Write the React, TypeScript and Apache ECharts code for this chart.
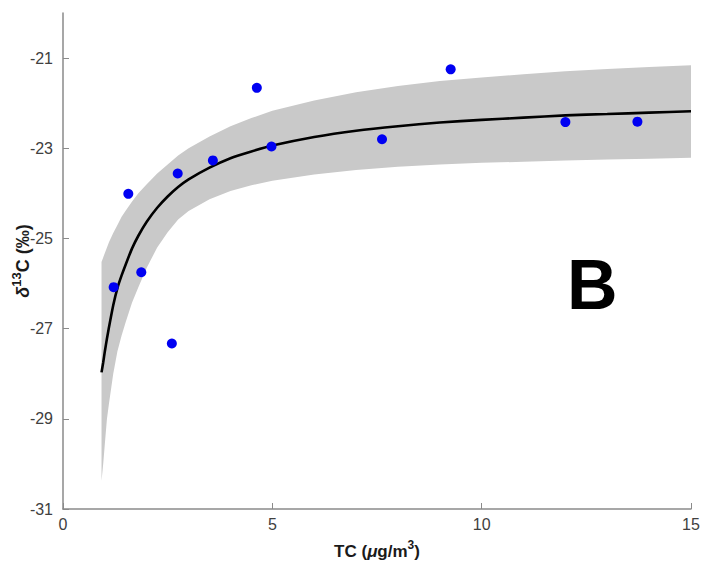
import React, { useEffect, useRef } from "react";
import * as echarts from "echarts";

// Measured TC (µg/m3) and δ13C (‰)
const tcValues = [1.21, 1.56, 1.87, 2.6, 2.74, 3.58, 4.63, 4.98, 7.62, 9.26, 12.0, 13.72];
const d13cValues = [-26.08, -24.01, -25.75, -27.33, -23.56, -23.27, -21.66, -22.96, -22.8, -21.25, -22.42, -22.41];

// Fitted curve and its confidence band
const fitX = [0.92, 0.96, 1.0, 1.05, 1.1, 1.2, 1.3, 1.4, 1.5, 1.65, 1.8, 2.0, 2.25, 2.5, 2.75, 3.0, 3.5, 4.0, 4.5, 5, 6, 7, 8, 9, 10, 11, 12, 13, 14, 15];
const fitY = [-27.97, -27.75, -27.5, -27.22, -26.96, -26.48, -26.1, -25.82, -25.57, -25.22, -24.94, -24.63, -24.32, -24.07, -23.86, -23.69, -23.43, -23.22, -23.07, -22.94, -22.75, -22.61, -22.51, -22.43, -22.37, -22.32, -22.27, -22.24, -22.21, -22.18];
const bandUpper = [-25.52, -25.42, -25.32, -25.2, -25.08, -24.88, -24.7, -24.52, -24.38, -24.18, -24.0, -23.8, -23.56, -23.36, -23.16, -23.0, -22.74, -22.51, -22.33, -22.17, -21.94, -21.76, -21.62, -21.51, -21.43, -21.36, -21.29, -21.24, -21.2, -21.16];
const bandLower = [-30.38, -30.0, -29.55, -29.0, -28.65, -28.0, -27.5, -27.15, -26.85, -26.42, -26.08, -25.65, -25.2, -24.86, -24.58, -24.39, -24.13, -23.95, -23.82, -23.72, -23.58, -23.48, -23.41, -23.36, -23.32, -23.3, -23.27, -23.25, -23.23, -23.21];

// Axis ticks
const yTicks = [-31, -29, -27, -25, -23, -21];
const xTicks = [0, 5, 10, 15];

const FONT = "'Liberation Sans', Arial, sans-serif";

export default function App() {
  const ref = useRef<HTMLDivElement>(null);

  useEffect(() => {
    document.body.style.margin = "0";
    if (!ref.current) return;
    const chart = echarts.init(ref.current, null, { renderer: "svg" });

    const bandData = [[fitX[0], bandLower[0]]];

    const richName = (size: number, sup: number) => ({
      b: { fontSize: size, fontWeight: "bold", fontFamily: FONT, color: "#1a1a1a", lineHeight: size + 4, verticalAlign: "bottom" },
      i: { fontSize: size, fontWeight: "bold", fontStyle: "italic", fontFamily: FONT, color: "#1a1a1a", lineHeight: size + 4, verticalAlign: "bottom" },
      s: { fontSize: sup, fontWeight: "bold", fontFamily: FONT, color: "#1a1a1a", lineHeight: size + 4, verticalAlign: "top" },
    });

    chart.setOption({
      animation: false,
      backgroundColor: "#ffffff",
      grid: { left: 63, right: 10, top: 13, bottom: 54, containLabel: false, outerBoundsMode: "none" },
      xAxis: {
        type: "value",
        min: xTicks[0],
        max: xTicks[xTicks.length - 1],
        interval: 5,
        axisLine: { show: true, lineStyle: { color: "#8a8a8a", width: 1.5 } },
        axisTick: { show: true, inside: true, length: 6, lineStyle: { color: "#8a8a8a", width: 1 } },
        axisLabel: { color: "#404040", fontSize: 16, fontFamily: FONT, margin: 7 },
        splitLine: { show: false },
        name: "{b|TC (}{i|μ}{b|g/m}{s|3}{b|)}",
        nameLocation: "middle",
        nameGap: 30,
        nameMoveOverlap: false,
        nameTextStyle: { rich: richName(17, 12) },
      },
      yAxis: {
        type: "value",
        min: -31,
        max: -20,
        axisLine: { show: true, lineStyle: { color: "#8a8a8a", width: 1.5 } },
        axisTick: { show: true, inside: true, length: 6, customValues: yTicks, lineStyle: { color: "#8a8a8a", width: 1 } },
        axisLabel: { color: "#404040", fontSize: 16, fontFamily: FONT, margin: 10, customValues: yTicks },
        splitLine: { show: false },
        name: "{i|δ}{s|13}{b|C (‰)}",
        nameLocation: "middle",
        nameGap: 31,
        nameMoveOverlap: false,
        nameTextStyle: { rich: richName(18, 13) },
      },
      graphic: [
        {
          type: "text",
          left: 567,
          top: 250,
          style: {
            text: "B",
            fontSize: 70,
            fontWeight: "bold",
            fontFamily: FONT,
            fill: "#000",
          },
          z: 100,
        },
      ],
      series: [
        {
          type: "custom",
          name: "band",
          silent: true,
          z: 1,
          data: bandData,
          renderItem: (_params: any, api: any) => {
            const pts: number[][] = [];
            for (let i = 0; i < fitX.length; i++) pts.push(api.coord([fitX[i], bandUpper[i]]));
            for (let i = fitX.length - 1; i >= 0; i--) pts.push(api.coord([fitX[i], bandLower[i]]));
            return {
              type: "polygon",
              shape: { points: pts },
              style: { fill: "#c9c9c9", stroke: null },
            };
          },
        },
        {
          type: "line",
          name: "fit",
          z: 2,
          data: fitX.map((x, i) => [x, fitY[i]]),
          showSymbol: false,
          symbol: "none",
          smooth: 0.2,
          lineStyle: { color: "#000", width: 2.6 },
        },
        {
          type: "scatter",
          name: "data",
          z: 3,
          data: tcValues.map((x, i) => [x, d13cValues[i]]),
          symbol: "circle",
          symbolSize: 10,
          itemStyle: { color: "#0000f2", opacity: 1 },
        },
      ],
    });

    return () => {
      chart.dispose();
    };
  }, []);

  return <div ref={ref} style={{ width: 701, height: 563 }} />;
}
